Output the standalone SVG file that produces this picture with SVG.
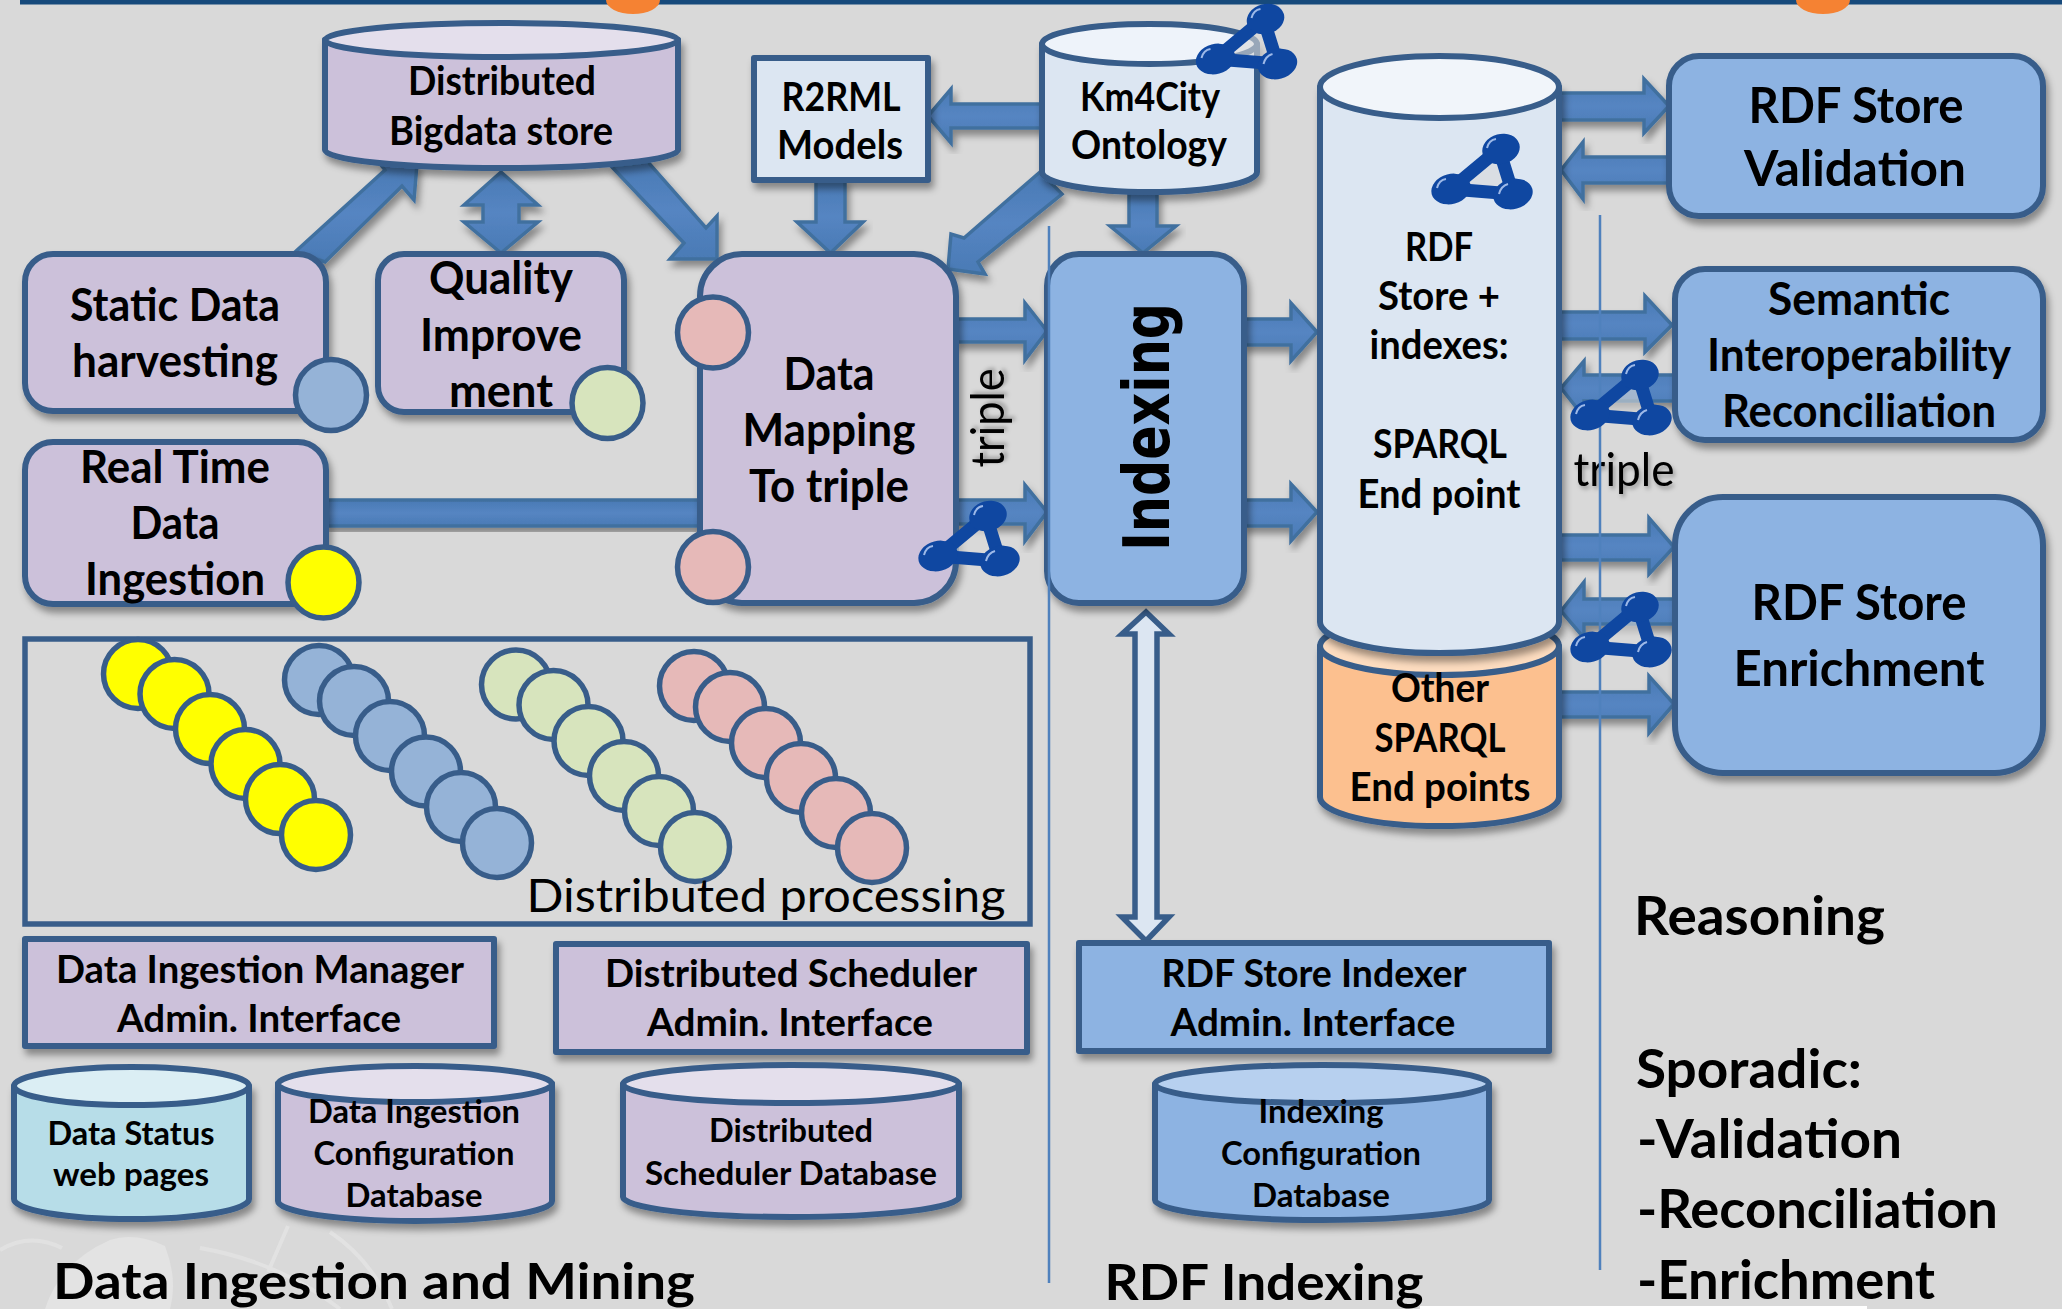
<svg xmlns="http://www.w3.org/2000/svg" width="2062" height="1309" viewBox="0 0 2062 1309">
<defs>
<filter id="sh" x="-15%" y="-15%" width="130%" height="135%"><feDropShadow dx="3" dy="6" stdDeviation="3.5" flood-color="#000" flood-opacity=".38"/></filter>
<filter id="ts" x="-15%" y="-15%" width="130%" height="140%"><feDropShadow dx="2" dy="3" stdDeviation="2" flood-color="#000" flood-opacity=".3"/></filter>
<linearGradient id="arw" x1="0" y1="0" x2="0" y2="1"><stop offset="0" stop-color="#4a7ab5"/><stop offset=".5" stop-color="#5585c2"/><stop offset="1" stop-color="#4a7ab5"/></linearGradient>
<g id="net">
<path d="M-2 0L-50 40L12 45Z" fill="#d9d9d9" fill-opacity=".6" stroke="#0f47a1" stroke-width="13" stroke-linejoin="round"/>
<ellipse cx="0" cy="0" rx="19" ry="15" transform="rotate(-15)" fill="#0f47a1"/>
<ellipse cx="-50" cy="40" rx="20" ry="15" fill="#0f47a1" transform="rotate(-15 -50 40)"/>
<ellipse cx="12" cy="45" rx="20" ry="15" fill="#0f47a1" transform="rotate(-15 12 45)"/>
<path d="M-14 -1Q-12 -9 -5 -10M-64 39Q-62 31 -55 30M-2 45Q0 37 7 35" fill="none" stroke="#9db9e8" stroke-width="2"/>
</g>
</defs>
<style>
text{font-family:"Lato","Carlito","Liberation Sans",sans-serif;fill:#000;font-weight:700;text-anchor:middle}
text:not([transform]){transform:translateY(1.5px)}
.s30{font-size:33px}.s36{font-size:40px}.s40{font-size:45px}.s44{font-size:50px}.s35{font-size:38px}
.big{font-size:53px;text-anchor:start}.hd{font-size:50px}
.reg{font-weight:400}
.shape{stroke:#385d8a;stroke-width:6;stroke-linejoin:round;filter:url(#sh)}
.top{stroke:#385d8a;stroke-width:6}
.plain{stroke:#385d8a;stroke-width:5}
.pur{fill:#ccc1da}.lt{fill:#dce6f2}.blu{fill:#8db3e2}.org{fill:#fcc08f}.teal{fill:#b7dde8}
.purt{fill:#e4dfec}.ltt{fill:#eef3fa}.blut{fill:#b7d0ef}.orgt{fill:#fddcbf}.tealt{fill:#dbeef4}
.dot{stroke:#385d8a;stroke-width:5.5}
.y{fill:#ffff00}.b{fill:#95b3d7}.g{fill:#d7e4bd}.p{fill:#e6b9b8}
.arrow{fill:url(#arw);stroke:#41709f;stroke-width:3.5;stroke-linejoin:miter;filter:url(#sh)}
.hollow{fill:#dce6f2;stroke:#385d8a;stroke-width:5.500}
.sep{stroke:#4f81bd;stroke-width:2.5;fill:none}
</style>
<rect width="2062" height="1309" fill="#d9d9d9"/>
<g id="background-crest" fill="none" stroke="#e4e4e4" stroke-width="4" opacity=".8">
<path d="M0 1250Q30 1232 62 1248M330 1232Q372 1260 392 1309M288 1226L268 1272M200 1248Q280 1262 340 1309"/>
<path d="M45 1309Q60 1262 110 1240Q135 1232 165 1246Q178 1280 170 1309Z" fill="#e6e6e6" stroke="none"/>
</g>
<rect id="top-band" x="20" y="0" width="2042" height="4.5" fill="#174a7c"/>
<ellipse cx="633" cy="0" rx="27" ry="14" fill="#f58233"/>
<ellipse cx="1823" cy="0" rx="27" ry="14" fill="#f58233"/>
<rect x="1420" y="1306" width="447" height="3" fill="#fff"/>

<g id="connectors">
<polygon class="arrow" points="295,252 385,170 380,164 417,164 414,200 402,186 325,262"/>
<polygon class="arrow" points="611,166 684,243 670,259 717,259 717,216 706,228 648,162"/>
<polygon class="arrow" points="501,172 538,205 519,205 519,222 538,222 501,253 464,222 483,222 483,205 464,205"/>
<polygon class="arrow" points="816,180 816,222 797,222 830.5,253 863,222 845,222 845,180"/>
<polygon class="arrow" points="1042,104 951,104 951,89 928,116 951,143 951,128 1042,128"/>
<polygon class="arrow" points="1040,172 964,238 951,234 948,269 985,274 978,262 1062,194"/>
<polygon class="arrow" points="1129,193 1129,226 1110,226 1143,253 1176,226 1157,226 1157,193"/>
<polygon class="arrow" points="956,319 1025,319 1025,303 1047,331 1025,360 1025,342 956,342"/>
<polygon class="arrow" points="956,500 1025,500 1025,485 1047,512 1025,541 1025,524 956,524"/>
<polygon class="arrow" points="1244,319 1291,319 1291,303 1317,332 1291,361 1291,345 1244,345"/>
<polygon class="arrow" points="1244,500 1291,500 1291,484 1317,512 1291,541 1291,526 1244,526"/>
<polygon class="arrow" points="1559,93 1644,93 1644,79 1669,106 1644,133 1644,120 1559,120"/>
<polygon class="arrow" points="1669,157 1583,157 1583,142 1561,170 1583,199 1583,183 1669,183"/>
<polygon class="arrow" points="1559,312 1645,312 1645,296 1672,325 1645,352 1645,339 1559,339"/>
<polygon class="arrow" points="1675,375 1584,375 1584,361 1561,388 1584,417 1584,401 1675,401"/>
<polygon class="arrow" points="1559,535 1649,535 1649,518 1674,547 1649,574 1649,560 1559,560"/>
<polygon class="arrow" points="1675,599 1584,599 1584,582 1561,611 1584,638 1584,624 1675,624"/>
<polygon class="arrow" points="1559,692 1649,692 1649,676 1674,704 1649,733 1649,717 1559,717"/>
<rect class="arrow" x="326" y="500" width="376" height="26"/>
<polygon class="hollow" points="1146,612 1169,634 1157,634 1157,917 1169,917 1146,941 1122,917 1135,917 1135,634 1122,634"/>
</g>

<g id="bigdata-store">
<path class="shape pur" d="M325 40V150A176 18 0 0 0 678 150V40Z"/>
<ellipse class="top purt" cx="501.5" cy="40" rx="176.5" ry="17"/>
<text class="s36" x="502" y="93" textLength="188" lengthAdjust="spacingAndGlyphs">Distributed</text>
<text class="s36" x="501" y="143" textLength="224" lengthAdjust="spacingAndGlyphs">Bigdata store</text>
</g>
<g id="r2rml-models">
<rect class="shape lt" x="754" y="58" width="174" height="122"/>
<text class="s36" x="841" y="109" textLength="119" lengthAdjust="spacingAndGlyphs">R2RML</text>
<text class="s36" x="840" y="157" textLength="126" lengthAdjust="spacingAndGlyphs">Models</text>
</g>
<g id="km4city-ontology">
<path class="shape lt" d="M1042 44V172A107 20 0 0 0 1257 172V44Z"/>
<ellipse class="top ltt" cx="1149.500" cy="44" rx="107.500" ry="20"/>
<text class="s36" x="1150" y="109" textLength="140" lengthAdjust="spacingAndGlyphs">Km4City</text>
<text class="s36" x="1149" y="157" textLength="156" lengthAdjust="spacingAndGlyphs">Ontology</text>
</g>
<g id="static-data">
<rect class="shape pur" x="25" y="254" width="301" height="157" rx="28"/>
<text class="s40" x="175" y="319" textLength="210" lengthAdjust="spacingAndGlyphs">Static Data</text>
<text class="s40" x="175" y="375" textLength="206" lengthAdjust="spacingAndGlyphs">harvesting</text>
<circle class="dot b" cx="331" cy="395" r="35.500"/>
</g>
<g id="quality-improvement">
<rect class="shape pur" x="378" y="254" width="246" height="158" rx="26"/>
<text class="s40" x="501" y="292" textLength="144" lengthAdjust="spacingAndGlyphs">Quality</text>
<text class="s40" x="501" y="349" textLength="162" lengthAdjust="spacingAndGlyphs">Improve</text>
<text class="s40" x="501" y="405" textLength="104" lengthAdjust="spacingAndGlyphs">ment</text>
<circle class="dot g" cx="607.500" cy="403" r="35.500"/>
</g>
<g id="real-time-ingestion">
<rect class="shape pur" x="25" y="442" width="301" height="162" rx="28"/>
<text class="s40" x="175" y="481" textLength="190" lengthAdjust="spacingAndGlyphs">Real Time</text>
<text class="s40" x="175" y="537" textLength="89" lengthAdjust="spacingAndGlyphs">Data</text>
<text class="s40" x="175" y="593" textLength="180" lengthAdjust="spacingAndGlyphs">Ingestion</text>
<circle class="dot y" cx="323.500" cy="582.500" r="35.500"/>
</g>
<g id="data-mapping">
<rect class="shape pur" x="700" y="254" width="256" height="349" rx="42"/>
<text class="s40" x="829" y="388" textLength="91" lengthAdjust="spacingAndGlyphs">Data</text>
<text class="s40" x="829" y="444" textLength="173" lengthAdjust="spacingAndGlyphs">Mapping</text>
<text class="s40" x="829" y="500" textLength="160" lengthAdjust="spacingAndGlyphs">To triple</text>
<circle class="dot p" cx="713" cy="332.500" r="35.500"/>
<circle class="dot p" cx="713" cy="567" r="35.500"/>
</g>
<g id="indexing">
<rect class="shape blu" x="1047" y="254" width="197" height="349" rx="32"/>
<text x="1169" y="427" transform="rotate(-90 1169 427)" textLength="248" lengthAdjust="spacingAndGlyphs" style="font-family:'DejaVu Sans',sans-serif;font-size:64px;font-weight:700">Indexing</text>
</g>
<g id="other-sparql">
<path class="shape org" d="M1320 646V797A119 29 0 0 0 1559 797V646Z"/>
<ellipse class="top orgt" cx="1439.500" cy="646" rx="119.500" ry="29"/>
<text class="s36" x="1440" y="700" textLength="98" lengthAdjust="spacingAndGlyphs">Other</text>
<text class="s36" x="1440" y="750" textLength="131" lengthAdjust="spacingAndGlyphs">SPARQL</text>
<text class="s36" x="1440" y="799" textLength="181" lengthAdjust="spacingAndGlyphs">End points</text>
</g>
<g id="rdf-store">
<path class="shape lt" d="M1320 87V622A119 31 0 0 0 1559 622V87Z"/>
<ellipse class="top ltt" cx="1439.500" cy="87" rx="119.500" ry="31" style="fill:#f1f5fa"/>
<text class="s36" x="1439" y="259" textLength="68" lengthAdjust="spacingAndGlyphs">RDF</text>
<text class="s36" x="1439" y="308" textLength="122" lengthAdjust="spacingAndGlyphs">Store +</text>
<text class="s36" x="1439" y="357" textLength="139" lengthAdjust="spacingAndGlyphs">indexes:</text>
<text class="s36" x="1440" y="456" textLength="134" lengthAdjust="spacingAndGlyphs">SPARQL</text>
<text class="s36" x="1439" y="506" textLength="163" lengthAdjust="spacingAndGlyphs">End point</text>
</g>
<g id="rdf-validation">
<rect class="shape blu" x="1669" y="56" width="374" height="160" rx="30"/>
<text class="s44" x="1856" y="121" textLength="215" lengthAdjust="spacingAndGlyphs">RDF Store</text>
<text class="s44" x="1855" y="184" textLength="222" lengthAdjust="spacingAndGlyphs">Validation</text>
</g>
<g id="semantic-interoperability">
<rect class="shape blu" x="1675" y="269" width="368" height="171" rx="30"/>
<text class="s40" x="1859" y="313" textLength="182" lengthAdjust="spacingAndGlyphs">Semantic</text>
<text class="s40" x="1859" y="369" textLength="304" lengthAdjust="spacingAndGlyphs">Interoperability</text>
<text class="s40" x="1859" y="425" textLength="274" lengthAdjust="spacingAndGlyphs">Reconciliation</text>
</g>
<g id="rdf-enrichment">
<rect class="shape blu" x="1675" y="497" width="368" height="276" rx="48"/>
<text class="s44" x="1859" y="618" textLength="215" lengthAdjust="spacingAndGlyphs">RDF Store</text>
<text class="s44" x="1859" y="684" textLength="251" lengthAdjust="spacingAndGlyphs">Enrichment</text>
</g>

<g id="distributed-processing">
<rect x="25" y="639" width="1005" height="285" fill="none" class="plain" style="stroke-width:5.5"/>
<g class="dot y"><circle cx="138" cy="674" r="34.500"/><circle cx="174.500" cy="694" r="34.500"/><circle cx="210" cy="729" r="34.500"/><circle cx="245.500" cy="764" r="34.500"/><circle cx="280" cy="799" r="34.500"/><circle cx="316" cy="835" r="34.500"/></g>
<g class="dot b"><circle cx="319" cy="680" r="34.500"/><circle cx="354" cy="701" r="34.500"/><circle cx="390" cy="736" r="34.500"/><circle cx="426" cy="771.500" r="34.500"/><circle cx="461" cy="807" r="34.500"/><circle cx="497" cy="843" r="34.500"/></g>
<g class="dot g"><circle cx="516" cy="684.500" r="34.500"/><circle cx="553.500" cy="705" r="34.500"/><circle cx="588.500" cy="741" r="34.500"/><circle cx="624" cy="776" r="34.500"/><circle cx="659" cy="811" r="34.500"/><circle cx="695" cy="847" r="34.500"/></g>
<g class="dot p"><circle cx="694" cy="686" r="34.500"/><circle cx="730" cy="707" r="34.500"/><circle cx="766" cy="743" r="34.500"/><circle cx="801" cy="778" r="34.500"/><circle cx="836" cy="813" r="34.500"/><circle cx="872" cy="848" r="34.500"/></g>
<text class="reg" x="766" y="910" style="font-size:47px" textLength="479" lengthAdjust="spacingAndGlyphs">Distributed processing</text>
</g>
<g id="ingestion-admin">
<rect class="shape pur" x="25" y="939" width="469" height="107"/>
<text class="s35" x="260" y="981" textLength="408" lengthAdjust="spacingAndGlyphs">Data Ingestion Manager</text>
<text class="s35" x="259" y="1030" textLength="284" lengthAdjust="spacingAndGlyphs">Admin. Interface</text>
</g>
<g id="scheduler-admin">
<rect class="shape pur" x="556" y="944" width="471" height="108"/>
<text class="s35" x="791" y="985" textLength="372" lengthAdjust="spacingAndGlyphs">Distributed Scheduler</text>
<text class="s35" x="790" y="1034" textLength="286" lengthAdjust="spacingAndGlyphs">Admin. Interface</text>
</g>
<g id="indexer-admin">
<rect class="shape blu" x="1079" y="943" width="470" height="108"/>
<text class="s35" x="1314" y="985" textLength="305" lengthAdjust="spacingAndGlyphs">RDF Store Indexer</text>
<text class="s35" x="1313" y="1034" textLength="285" lengthAdjust="spacingAndGlyphs">Admin. Interface</text>
</g>
<g id="data-status">
<path class="shape teal" d="M14 1086V1199A117 20 0 0 0 249 1199V1086Z"/>
<ellipse class="top tealt" cx="131.500" cy="1086" rx="117.500" ry="19"/>
<text class="s30" x="131" y="1143" textLength="167" lengthAdjust="spacingAndGlyphs">Data Status</text>
<text class="s30" x="131" y="1184" textLength="156" lengthAdjust="spacingAndGlyphs">web pages</text>
</g>
<g id="ingestion-config">
<path class="shape pur" d="M278 1084V1201A137 20 0 0 0 552 1201V1084Z"/>
<ellipse class="top purt" cx="415" cy="1084" rx="137" ry="18"/>
<text class="s30" x="414" y="1121" textLength="212" lengthAdjust="spacingAndGlyphs">Data Ingestion</text>
<text class="s30" x="414" y="1163" textLength="201" lengthAdjust="spacingAndGlyphs">Configuration</text>
<text class="s30" x="414" y="1205" textLength="137" lengthAdjust="spacingAndGlyphs">Database</text>
</g>
<g id="scheduler-db">
<path class="shape pur" d="M623 1084V1197A168 20 0 0 0 959 1197V1084Z"/>
<ellipse class="top purt" cx="791" cy="1084" rx="168" ry="19"/>
<text class="s30" x="791" y="1140" textLength="164" lengthAdjust="spacingAndGlyphs">Distributed</text>
<text class="s30" x="791" y="1183" textLength="292" lengthAdjust="spacingAndGlyphs">Scheduler Database</text>
</g>
<g id="indexing-config">
<path class="shape blu" d="M1155 1084V1200A167 20 0 0 0 1489 1200V1084Z"/>
<ellipse class="top blut" cx="1322" cy="1084" rx="167" ry="19"/>
<text class="s30" x="1321" y="1121" textLength="125" lengthAdjust="spacingAndGlyphs">Indexing</text>
<text class="s30" x="1321" y="1163" textLength="200" lengthAdjust="spacingAndGlyphs">Configuration</text>
<text class="s30" x="1321" y="1205" textLength="138" lengthAdjust="spacingAndGlyphs">Database</text>
</g>

<g id="labels">
<text class="reg" x="0" y="0" transform="translate(1004 418) rotate(-90)" style="font-size:46px;filter:url(#ts)" textLength="99" lengthAdjust="spacingAndGlyphs">triple</text>
<text class="reg" x="1624" y="484" style="font-size:46px;filter:url(#ts)" textLength="101" lengthAdjust="spacingAndGlyphs">triple</text>
<text class="hd" x="374" y="1297" textLength="642" lengthAdjust="spacingAndGlyphs">Data Ingestion and Mining</text>
<text class="hd" x="1264" y="1298" textLength="319" lengthAdjust="spacingAndGlyphs">RDF Indexing</text>
<text class="big" x="1634" y="933" textLength="251" lengthAdjust="spacingAndGlyphs">Reasoning</text>
<text class="big" x="1636" y="1086" textLength="226" lengthAdjust="spacingAndGlyphs">Sporadic:</text>
<text class="big" x="1637" y="1156" textLength="265" lengthAdjust="spacingAndGlyphs">-Validation</text>
<text class="big" x="1637" y="1226" textLength="361" lengthAdjust="spacingAndGlyphs">-Reconciliation</text>
<text class="big" x="1637" y="1297" textLength="298" lengthAdjust="spacingAndGlyphs">-Enrichment</text>
</g>
<g id="separators">
<line class="sep" x1="1049" y1="226" x2="1049" y2="1283"/>
<line class="sep" x1="1600" y1="215" x2="1600" y2="1270"/>
</g>
<g id="rdf-icons">
<use href="#net" transform="translate(1265.500 19)"/>
<use href="#net" transform="translate(1501 149)"/>
<use href="#net" transform="translate(988 516)"/>
<use href="#net" transform="translate(1640 375)"/>
<use href="#net" transform="translate(1640 607)"/>
</g>
</svg>
